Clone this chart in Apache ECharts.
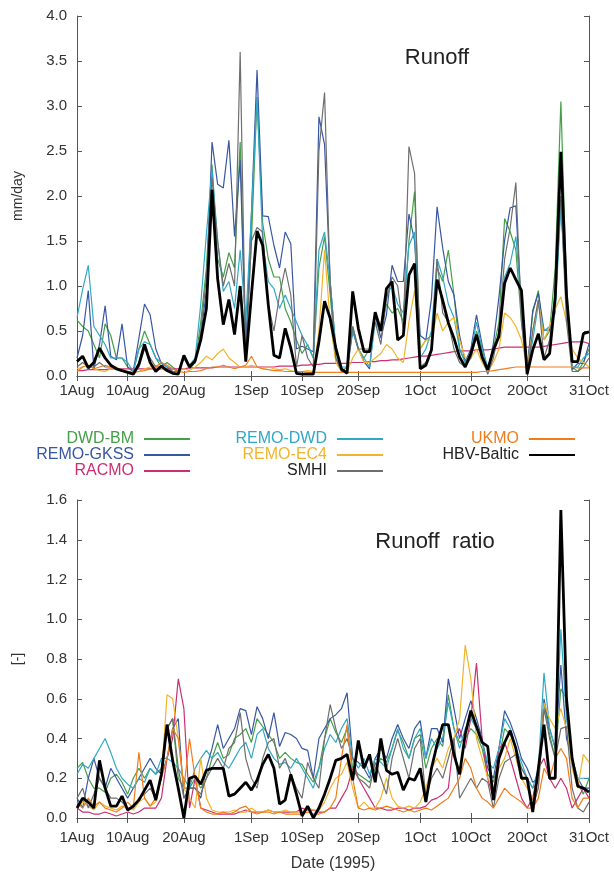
<!DOCTYPE html>
<html>
<head>
<meta charset="utf-8">
<script src="https://cdn.jsdelivr.net/npm/echarts@6/dist/echarts.min.js"></script>
<style>
  html, body { margin: 0; padding: 0; background: #ffffff; }
  #chart { width: 614px; height: 873px; }
</style>
</head>
<body>
<div id="chart"></div>
<script>
// Daily values, 1 Aug - 31 Oct 1995 (92 days)
const months = [['Aug', 31], ['Sep', 30], ['Oct', 31]];
const tickDays = [0, 9, 19, 31, 40, 50, 61, 70, 80, 91];

// ---- Runoff (mm/day) ----
const bmRunoff = [
  0.62, 0.55, 0.50, 0.35, 0.20, 0.58, 0.45, 0.20, 0.20, 0.10,
  0.05, 0.30, 0.50, 0.35, 0.20, 0.10, 0.15, 0.10, 0.05, 0.20,
  0.08, 0.15, 0.60, 1.20, 2.35, 1.30, 1.10, 1.37, 1.20, 2.60,
  0.30, 1.50, 3.10, 1.70, 1.30, 1.10, 1.10, 0.75, 0.60, 0.40,
  0.25, 0.35, 0.20, 1.20, 1.55, 0.90, 0.20, 0.05, 0.10, 0.55,
  0.30, 0.20, 0.30, 0.70, 0.55, 0.80, 0.70, 0.75, 0.60, 1.50,
  2.05, 0.30, 0.40, 0.45, 1.20, 1.05, 1.40, 0.90, 0.30, 0.15,
  0.20, 0.50, 0.30, 0.05, 0.30, 0.60, 1.75, 1.60, 1.40, 0.60,
  0.05, 0.70, 0.95, 0.40, 0.50, 1.20, 3.05, 1.00, 0.10, 0.05,
  0.15, 0.30
];
const gkssRunoff = [
  0.20, 0.45, 0.95, 0.08, 0.35, 0.78, 0.22, 0.18, 0.58, 0.10,
  0.05, 0.42, 0.80, 0.68, 0.30, 0.14, 0.10, 0.05, 0.05, 0.20,
  0.10, 0.15, 0.45, 0.95, 2.60, 2.13, 2.09, 2.62, 1.55, 2.40,
  0.30, 1.80, 3.40, 1.78, 1.77, 1.45, 1.20, 1.60, 1.47, 0.30,
  0.33, 0.30, 0.27, 2.88, 2.57, 1.05, 0.30, 0.08, 0.05, 0.50,
  0.30, 0.16, 0.08, 0.68, 0.42, 0.68, 1.23, 1.05, 1.05, 1.80,
  1.50, 0.45, 0.40, 0.86, 1.88, 1.42, 1.05, 0.90, 0.45, 0.16,
  0.30, 0.68, 0.35, 0.05, 0.36, 0.88, 1.51, 1.87, 1.89, 0.70,
  0.07, 0.73, 0.92, 0.51, 0.51, 0.81, 1.96, 0.80, 0.07, 0.14,
  0.14, 0.36
];
const racmoRunoff = [
  0.06, 0.06, 0.07, 0.07, 0.07, 0.07, 0.08, 0.08, 0.08, 0.08,
  0.08, 0.08, 0.08, 0.08, 0.08, 0.08, 0.08, 0.08, 0.08, 0.08,
  0.09, 0.09, 0.09, 0.09, 0.09, 0.10, 0.10, 0.10, 0.10, 0.10,
  0.10, 0.10, 0.10, 0.10, 0.10, 0.10, 0.11, 0.11, 0.11, 0.11,
  0.12, 0.12, 0.13, 0.13, 0.14, 0.14, 0.14, 0.14, 0.14, 0.15,
  0.15, 0.15, 0.16, 0.16, 0.17, 0.17, 0.18, 0.18, 0.19, 0.20,
  0.21, 0.22, 0.22, 0.23, 0.24, 0.25, 0.26, 0.27, 0.28, 0.28,
  0.28, 0.29, 0.29, 0.29, 0.30, 0.31, 0.32, 0.32, 0.32, 0.32,
  0.32, 0.32, 0.32, 0.33, 0.34, 0.35, 0.36, 0.37, 0.38, 0.38,
  0.38, 0.36
];
const dwdRunoff = [
  0.65, 0.96, 1.23, 0.55, 0.45, 0.35, 0.20, 0.20, 0.20, 0.15,
  0.05, 0.30, 0.38, 0.35, 0.20, 0.15, 0.10, 0.08, 0.05, 0.20,
  0.12, 0.20, 0.80, 1.58, 2.30, 1.50, 0.94, 1.05, 0.75, 1.40,
  0.60, 1.80, 3.10, 1.49, 1.05, 0.97, 0.75, 0.90, 0.75, 0.60,
  0.45, 0.34, 0.20, 1.40, 1.60, 1.05, 0.30, 0.10, 0.10, 0.50,
  0.30, 0.20, 0.10, 0.60, 0.50, 0.90, 1.00, 0.80, 0.70, 1.45,
  1.60, 0.20, 0.30, 0.50, 1.30, 1.10, 0.80, 0.65, 0.30, 0.15,
  0.25, 0.60, 0.30, 0.10, 0.25, 0.50, 1.10, 1.25, 1.55, 0.80,
  0.05, 0.40, 0.80, 0.50, 0.55, 0.70, 1.90, 0.80, 0.10, 0.10,
  0.20, 0.25
];
const ec4Runoff = [
  0.08, 0.10, 0.12, 0.08, 0.06, 0.05, 0.08, 0.10, 0.06, 0.05,
  0.04, 0.05, 0.08, 0.10, 0.12, 0.08, 0.05, 0.04, 0.05, 0.08,
  0.06, 0.10, 0.15, 0.22, 0.18, 0.25, 0.30, 0.20, 0.15, 0.10,
  0.10, 0.12, 0.10, 0.08, 0.10, 0.08, 0.07, 0.08, 0.06, 0.05,
  0.05, 0.06, 0.05, 0.50, 1.40, 0.60, 0.15, 0.05, 0.05, 0.20,
  0.30, 0.15, 0.15, 0.20, 0.25, 0.35, 0.30, 0.20, 0.15, 0.60,
  0.95, 0.30, 0.40, 0.40, 0.70, 0.50, 0.60, 0.65, 0.40, 0.20,
  0.20, 0.30, 0.15, 0.05, 0.15, 0.30, 0.70, 0.65, 0.55, 0.40,
  0.10, 0.50, 0.85, 0.40, 0.55, 0.75, 0.88, 0.60, 0.30, 0.20,
  0.15, 0.10
];
const smhiRunoff = [
  0.10, 0.15, 0.10, 0.10, 0.15, 0.10, 0.10, 0.08, 0.05, 0.05,
  0.03, 0.10, 0.30, 0.20, 0.10, 0.10, 0.08, 0.05, 0.05, 0.20,
  0.10, 0.15, 0.50, 1.10, 2.20, 1.50, 1.00, 1.25, 1.00, 3.60,
  0.20, 1.50, 1.65, 1.60, 0.80, 0.50, 0.90, 1.20, 0.90, 0.10,
  0.45, 0.20, 0.10, 2.50, 3.15, 1.00, 0.20, 0.05, 0.05, 0.55,
  0.30, 0.30, 0.30, 0.60, 0.35, 0.85, 1.10, 1.00, 0.50, 2.55,
  2.25, 0.10, 0.15, 0.30, 1.30, 0.70, 0.60, 0.30, 0.15, 0.10,
  0.20, 0.45, 0.20, 0.02, 0.20, 0.50, 1.30, 1.65, 2.15, 0.60,
  0.02, 0.50, 0.85, 0.20, 0.40, 0.90, 2.00, 0.60, 0.05, 0.05,
  0.10, 0.20
];
const ukmoRunoff = [
  0.05, 0.10, 0.12, 0.08, 0.10, 0.12, 0.10, 0.08, 0.06, 0.05,
  0.04, 0.05, 0.06, 0.08, 0.10, 0.15, 0.12, 0.08, 0.05, 0.04,
  0.05, 0.05, 0.06, 0.08, 0.10, 0.10, 0.12, 0.10, 0.08, 0.10,
  0.12, 0.22, 0.10, 0.08, 0.07, 0.06, 0.06, 0.05, 0.05, 0.05,
  0.05, 0.04, 0.04, 0.04, 0.04, 0.04, 0.04, 0.04, 0.04, 0.04,
  0.04, 0.04, 0.04, 0.04, 0.04, 0.04, 0.04, 0.04, 0.04, 0.04,
  0.04, 0.04, 0.04, 0.04, 0.04, 0.04, 0.04, 0.04, 0.04, 0.04,
  0.04, 0.04, 0.05, 0.05, 0.06, 0.07, 0.08, 0.09, 0.10, 0.10,
  0.10, 0.10, 0.10, 0.10, 0.10, 0.10, 0.10, 0.10, 0.10, 0.09,
  0.09, 0.09
];
const hbvRunoff = [
  0.16, 0.22, 0.09, 0.15, 0.31, 0.20, 0.12, 0.08, 0.06, 0.04,
  0.02, 0.13, 0.35, 0.15, 0.05, 0.11, 0.06, 0.03, 0.02, 0.23,
  0.10, 0.17, 0.40, 0.75, 2.07, 1.08, 0.57, 0.85, 0.46, 1.00,
  0.16, 0.90, 1.61, 1.45, 0.79, 0.23, 0.20, 0.53, 0.31, 0.03,
  0.02, 0.02, 0.02, 0.38, 0.83, 0.64, 0.31, 0.08, 0.03, 0.94,
  0.53, 0.27, 0.27, 0.71, 0.50, 0.97, 1.05, 0.40, 0.45, 1.12,
  1.25, 0.08, 0.12, 0.29, 1.07, 0.84, 0.59, 0.42, 0.21, 0.10,
  0.25, 0.46, 0.21, 0.07, 0.29, 0.44, 1.03, 1.20, 1.07, 0.95,
  0.02, 0.29, 0.47, 0.18, 0.25, 0.88, 2.49, 0.90, 0.16, 0.16,
  0.47, 0.49
];

// ---- Runoff ratio (-) ----
const bmRatio = [
  0.25, 0.28, 0.20, 0.15, 0.15, 0.13, 0.20, 0.22, 0.18, 0.12,
  0.20, 0.25, 0.20, 0.25, 0.22, 0.25, 0.45, 0.50, 0.20, 0.15,
  0.15, 0.20, 0.15, 0.20, 0.30, 0.38, 0.30, 0.32, 0.40, 0.42,
  0.45, 0.38, 0.50, 0.46, 0.42, 0.38, 0.30, 0.33, 0.30, 0.28,
  0.27, 0.22, 0.18, 0.25, 0.40, 0.50, 0.43, 0.38, 0.45, 0.25,
  0.22, 0.20, 0.18, 0.25, 0.30, 0.28, 0.35, 0.44, 0.38, 0.30,
  0.40, 0.42, 0.25, 0.35, 0.40, 0.36, 0.62, 0.45, 0.38, 0.40,
  0.45, 0.42, 0.35, 0.22, 0.18, 0.30, 0.45, 0.42, 0.35, 0.25,
  0.20, 0.15, 0.18, 0.58, 0.42, 0.30, 0.65, 0.60, 0.30, 0.18,
  0.12, 0.20
];
const gkssRatio = [
  0.10, 0.05, 0.20, 0.30, 0.20, 0.15, 0.25, 0.20, 0.15, 0.10,
  0.15, 0.20, 0.25, 0.30, 0.25, 0.22, 0.30, 0.45, 0.50, 0.10,
  0.15, 0.15, 0.10, 0.25, 0.35, 0.47, 0.35, 0.40, 0.45, 0.55,
  0.54, 0.42, 0.56, 0.50, 0.40, 0.53, 0.36, 0.43, 0.42, 0.40,
  0.35, 0.34, 0.20, 0.40, 0.45, 0.50, 0.52, 0.55, 0.63, 0.30,
  0.28, 0.25, 0.20, 0.30, 0.35, 0.30, 0.40, 0.47, 0.40, 0.35,
  0.45, 0.49, 0.30, 0.45, 0.45, 0.38, 0.70, 0.55, 0.40, 0.50,
  0.59, 0.50, 0.40, 0.25, 0.20, 0.35, 0.54, 0.48, 0.40, 0.30,
  0.25, 0.18, 0.20, 0.60, 0.45, 0.35, 0.77, 0.40, 0.30, 0.20,
  0.15, 0.15
];
const racmoRatio = [
  0.05, 0.03, 0.03, 0.02, 0.02, 0.03, 0.02, 0.01, 0.02, 0.03,
  0.02, 0.03, 0.05, 0.05, 0.05, 0.10, 0.30, 0.40, 0.70, 0.55,
  0.05, 0.20, 0.05, 0.04, 0.03, 0.02, 0.02, 0.02, 0.02, 0.03,
  0.04, 0.03, 0.03, 0.03, 0.04, 0.03, 0.03, 0.03, 0.03, 0.03,
  0.05, 0.04, 0.04, 0.03, 0.03, 0.05, 0.05, 0.10, 0.15, 0.25,
  0.20, 0.15, 0.10, 0.05, 0.05, 0.04, 0.04, 0.05, 0.05, 0.04,
  0.05, 0.05, 0.06, 0.09, 0.10, 0.12, 0.15, 0.40, 0.45, 0.35,
  0.50, 0.78, 0.40, 0.20, 0.10, 0.35, 0.38, 0.30, 0.20, 0.10,
  0.05, 0.10, 0.25, 0.30, 0.20, 0.15, 0.20, 0.15, 0.05, 0.10,
  0.15, 0.10
];
const dwdRatio = [
  0.22, 0.27, 0.25, 0.30, 0.35, 0.40, 0.33, 0.25, 0.20, 0.17,
  0.15, 0.20, 0.18, 0.25, 0.22, 0.30, 0.30, 0.28, 0.25, 0.20,
  0.15, 0.25, 0.30, 0.34, 0.30, 0.33, 0.28, 0.25, 0.30, 0.35,
  0.38, 0.30, 0.42, 0.45, 0.35, 0.30, 0.27, 0.28, 0.25, 0.30,
  0.25, 0.20, 0.15, 0.25, 0.35, 0.42, 0.38, 0.45, 0.50, 0.30,
  0.25, 0.30, 0.22, 0.30, 0.28, 0.25, 0.35, 0.45, 0.35, 0.30,
  0.40, 0.45, 0.30, 0.40, 0.35, 0.40, 0.58, 0.45, 0.35, 0.45,
  0.50, 0.45, 0.38, 0.28, 0.25, 0.35, 0.50, 0.45, 0.35, 0.28,
  0.20, 0.15, 0.25, 0.73, 0.45, 0.35, 0.95, 0.50, 0.30, 0.20,
  0.20, 0.20
];
const ec4Ratio = [
  0.05, 0.08, 0.06, 0.04, 0.08, 0.06, 0.05, 0.04, 0.06, 0.05,
  0.04, 0.08, 0.10, 0.06, 0.08, 0.20, 0.62, 0.60, 0.40, 0.15,
  0.10, 0.05, 0.30, 0.10, 0.04, 0.03, 0.03, 0.03, 0.04, 0.03,
  0.03, 0.05, 0.03, 0.03, 0.04, 0.03, 0.03, 0.04, 0.03, 0.03,
  0.03, 0.05, 0.04, 0.04, 0.08, 0.15, 0.20, 0.22, 0.28, 0.15,
  0.05, 0.08, 0.05, 0.05, 0.10, 0.20, 0.10, 0.06, 0.05, 0.06,
  0.05, 0.08, 0.15, 0.25, 0.30, 0.25, 0.35, 0.40, 0.50, 0.87,
  0.70, 0.40, 0.30, 0.20, 0.15, 0.25, 0.30, 0.40, 0.30, 0.20,
  0.15, 0.10, 0.15, 0.58, 0.50, 0.45, 0.55, 0.45, 0.25, 0.15,
  0.32, 0.28
];
const smhiRatio = [
  0.10, 0.15, 0.05, 0.12, 0.20, 0.15, 0.10, 0.10, 0.08, 0.05,
  0.05, 0.10, 0.12, 0.15, 0.10, 0.20, 0.45, 0.50, 0.25, 0.10,
  0.15, 0.15, 0.12, 0.20, 0.25, 0.30, 0.25, 0.35, 0.38, 0.53,
  0.30, 0.20, 0.15, 0.30, 0.38, 0.40, 0.25, 0.30, 0.22, 0.15,
  0.10, 0.28, 0.20, 0.15, 0.40, 0.57, 0.45, 0.35, 0.40, 0.30,
  0.20, 0.18, 0.15, 0.28, 0.20, 0.12, 0.30, 0.40, 0.30, 0.20,
  0.35, 0.40, 0.10, 0.20, 0.25, 0.20, 0.30, 0.40, 0.10, 0.15,
  0.20, 0.15, 0.20, 0.18, 0.05, 0.20, 0.28, 0.30, 0.32, 0.25,
  0.20, 0.05, 0.15, 0.55, 0.40, 0.30, 0.45, 0.46, 0.15, 0.05,
  0.03, 0.08
];
const ukmoRatio = [
  0.08, 0.05, 0.10, 0.06, 0.08, 0.05, 0.04, 0.03, 0.05, 0.08,
  0.05, 0.33, 0.10, 0.06, 0.10, 0.20, 0.30, 0.45, 0.40, 0.15,
  0.40, 0.20, 0.05, 0.03, 0.02, 0.02, 0.03, 0.02, 0.03, 0.05,
  0.06, 0.03, 0.02, 0.03, 0.03, 0.02, 0.03, 0.02, 0.02, 0.02,
  0.02, 0.03, 0.02, 0.02, 0.03, 0.05, 0.10, 0.30, 0.47, 0.20,
  0.05, 0.04, 0.05, 0.04, 0.05, 0.06, 0.05, 0.04, 0.03, 0.04,
  0.03, 0.04, 0.05, 0.04, 0.06, 0.08, 0.10, 0.15, 0.20, 0.30,
  0.25, 0.15, 0.10, 0.08, 0.05, 0.10, 0.15, 0.12, 0.10, 0.08,
  0.05, 0.05, 0.10, 0.25, 0.20, 0.30, 0.35, 0.30, 0.10, 0.05,
  0.10, 0.10
];
const hbvRatio = [
  0.05, 0.10, 0.08, 0.05, 0.29, 0.15, 0.06, 0.06, 0.11, 0.04,
  0.06, 0.09, 0.14, 0.19, 0.09, 0.22, 0.47, 0.29, 0.15, 0.00,
  0.20, 0.21, 0.17, 0.24, 0.25, 0.25, 0.25, 0.11, 0.12, 0.15,
  0.18, 0.14, 0.19, 0.27, 0.32, 0.25, 0.07, 0.09, 0.22, 0.12,
  0.01, 0.06, 0.00, 0.05, 0.12, 0.20, 0.29, 0.30, 0.32, 0.19,
  0.39, 0.25, 0.32, 0.18, 0.40, 0.24, 0.22, 0.23, 0.14, 0.20,
  0.19, 0.25, 0.08, 0.25, 0.37, 0.47, 0.47, 0.32, 0.22, 0.42,
  0.54, 0.46, 0.38, 0.36, 0.09, 0.30, 0.38, 0.44, 0.35, 0.20,
  0.20, 0.03, 0.25, 0.47, 0.20, 0.20, 1.55, 0.60, 0.30, 0.16,
  0.15, 0.13
];

// Model names in legend order, with their line colours
const modelNames = ['DWD-BM', 'REMO-GKSS', 'RACMO', 'REMO-DWD', 'REMO-EC4', 'SMHI', 'UKMO', 'HBV-Baltic'];
const lineColors = ['#449f48', '#3857a3', '#cc2f72', '#30a8c6', '#f2b42c', '#6e6e6e', '#f07d1c', '#000000'];
const labelColors = ['#449f48', '#3857a3', '#cc2f72', '#30a8c6', '#f2b42c', '#222222', '#f07d1c', '#222222'];
const runoffSeries = [bmRunoff, gkssRunoff, racmoRunoff, dwdRunoff, ec4Runoff, smhiRunoff, ukmoRunoff, hbvRunoff];
const ratioSeries = [bmRatio, gkssRatio, racmoRatio, dwdRatio, ec4Ratio, smhiRatio, ukmoRatio, hbvRatio];

// Category labels like "1Aug", "2Aug", ...
const dates = [];
months.forEach(([m, n]) => { for (let d = 1; d <= n; d++) dates.push(d + m); });

const FONT = 'Liberation Sans';
const AXIS_COLOR = '#555';
const isTickDay = (i) => tickDays.indexOf(i) >= 0;

function xAxisPair(gridIndex, labelMargin, withName) {
  const bottom = {
    type: 'category', gridIndex, data: dates, boundaryGap: false, position: 'bottom',
    axisLine: { lineStyle: { color: AXIS_COLOR, width: 1 } },
    axisTick: { inside: true, length: 5, interval: isTickDay, lineStyle: { color: AXIS_COLOR } },
    axisLabel: { interval: isTickDay, margin: labelMargin, color: '#333', fontSize: 15, fontFamily: FONT, showMaxLabel: true, showMinLabel: true },
    splitLine: { show: false }
  };
  if (withName) {
    bottom.name = 'Date (1995)';
    bottom.nameLocation = 'middle';
    bottom.nameGap = 38;
    bottom.nameTextStyle = { fontSize: 16, color: '#333', fontFamily: FONT };
  }
  const top = {
    type: 'category', gridIndex, data: dates, boundaryGap: false, position: 'top',
    axisLine: { lineStyle: { color: AXIS_COLOR, width: 1 } },
    axisTick: { inside: true, length: 5, interval: isTickDay, lineStyle: { color: AXIS_COLOR } },
    axisLabel: { show: false }, splitLine: { show: false }
  };
  return [bottom, top];
}

function yAxisPair(gridIndex, max, step, name) {
  const left = {
    type: 'value', gridIndex, min: 0, max, interval: step, position: 'left',
    name, nameLocation: 'middle', nameGap: 52, nameRotate: 90,
    nameTextStyle: { fontSize: 14, color: '#333', fontFamily: FONT },
    axisLine: { show: true, lineStyle: { color: AXIS_COLOR, width: 1 } },
    axisTick: { show: true, inside: true, length: 5, lineStyle: { color: AXIS_COLOR } },
    axisLabel: { formatter: (v) => v.toFixed(1), color: '#333', fontSize: 15, fontFamily: FONT, margin: 10 },
    splitLine: { show: false }
  };
  const right = {
    type: 'value', gridIndex, min: 0, max, interval: step, position: 'right',
    axisLine: { show: true, lineStyle: { color: AXIS_COLOR, width: 1 } },
    axisTick: { show: true, inside: true, length: 5, lineStyle: { color: AXIS_COLOR } },
    axisLabel: { show: false }, splitLine: { show: false }
  };
  return [left, right];
}

function lineSeries(values, i, xIdx, yIdx) {
  const isObs = modelNames[i] === 'HBV-Baltic';
  return {
    name: modelNames[i], type: 'line', data: values,
    xAxisIndex: xIdx, yAxisIndex: yIdx,
    symbol: 'none', smooth: false,
    itemStyle: { color: lineColors[i] },
    lineStyle: { color: lineColors[i], width: isObs ? 2.8 : 1.2 },
    z: isObs ? 5 : 2
  };
}

function legendColumn(idx, right) {
  return {
    data: idx.map(i => ({ name: modelNames[i], textStyle: { color: labelColors[i] } })),
    orient: 'vertical', align: 'right', right, top: 426,
    icon: 'rect', itemWidth: 46, itemHeight: 2, itemGap: 0,
    selectedMode: false,
    textStyle: { fontSize: 16, fontFamily: FONT, lineHeight: 16, padding: [0, 5, 0, 0] }
  };
}

const option = {
  animation: false,
  backgroundColor: '#ffffff',
  title: [
    { text: 'Runoff', left: 432, top: 42, textAlign: 'center',
      textStyle: { fontSize: 22, fontWeight: 'normal', color: '#222', fontFamily: FONT } },
    { text: 'Runoff  ratio', left: 430, top: 526, textAlign: 'center',
      textStyle: { fontSize: 22, fontWeight: 'normal', color: '#222', fontFamily: FONT } }
  ],
  legend: [
    legendColumn([0, 1, 2], 419),
    legendColumn([3, 4, 5], 226),
    legendColumn([6, 7], 34)
  ],
  grid: [
    { left: 77, right: 25, top: 16, height: 360 },
    { left: 77, right: 25, top: 500, height: 321 }
  ],
  xAxis: [...xAxisPair(0, 7, false), ...xAxisPair(1, 12, true)],
  yAxis: [...yAxisPair(0, 4, 0.5, 'mm/day'), ...yAxisPair(1, 1.6, 0.2, '[-]')],
  series: [
    ...runoffSeries.map((v, i) => lineSeries(v, i, 0, 0)),
    ...ratioSeries.map((v, i) => lineSeries(v, i, 2, 2))
  ]
};

const chart = echarts.init(document.getElementById('chart'), null, { renderer: 'canvas' });
chart.setOption(option);
</script>
</body>
</html>
